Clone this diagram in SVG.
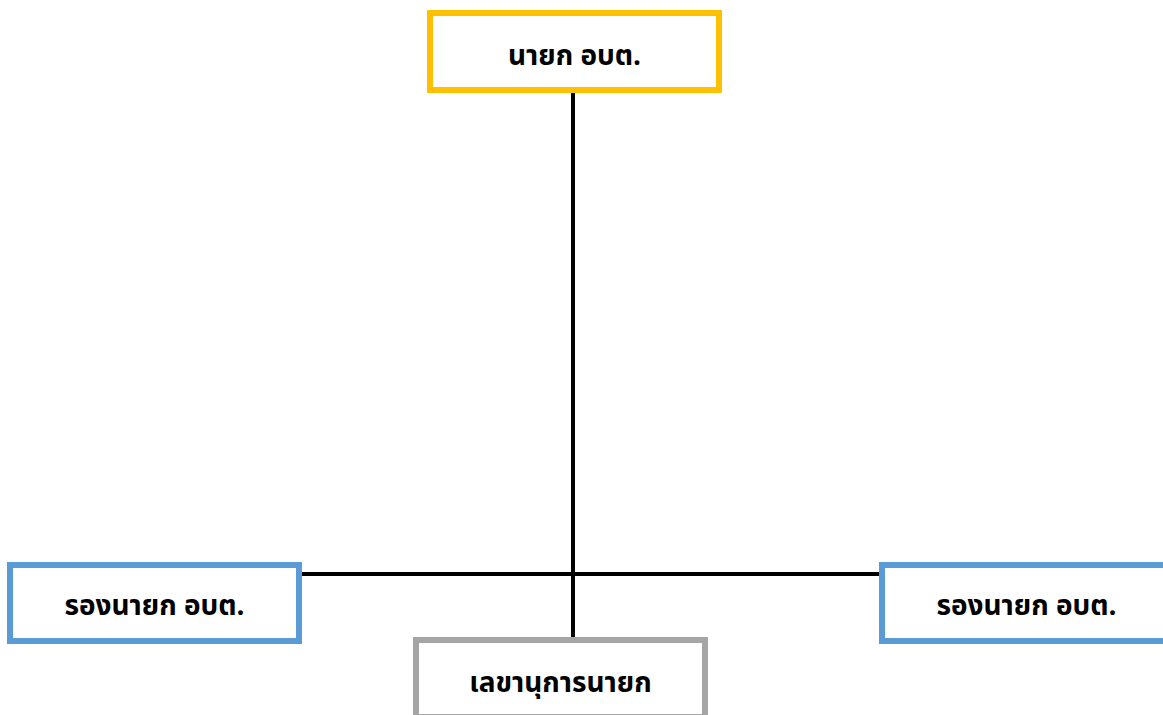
<svg xmlns="http://www.w3.org/2000/svg" width="1163" height="715" viewBox="0 0 1163 715">
<style>
.box{fill:#ffffff;stroke-width:6}
.t{font-family:"Tahoma","Noto Sans Thai","Noto Sans","DejaVu Sans",sans-serif;font-size:28px;font-weight:bold;fill:#000;text-anchor:middle}
.ln{stroke:#000;stroke-width:4;fill:none}
</style>
<rect width="1163" height="715" fill="#ffffff"/>
<g id="connectors">
<line class="ln" x1="573" y1="93" x2="573" y2="637"/>
<line class="ln" x1="302" y1="574" x2="879" y2="574"/>
</g>
<g id="node-top">
<rect class="box" x="430" y="13" width="289" height="77" stroke="#FFC000"/>
<text class="t" x="574.5" y="65">นายก อบต.</text>
</g>
<g id="node-left">
<rect class="box" x="10" y="565" width="289" height="76" stroke="#5B9BD5"/>
<text class="t" x="154.5" y="615">รองนายก อบต.</text>
</g>
<g id="node-right">
<rect class="box" x="882" y="565" width="289" height="76" stroke="#5B9BD5"/>
<text class="t" x="1026.5" y="615">รองนายก อบต.</text>
</g>
<g id="node-bottom">
<rect class="box" x="416" y="640" width="289" height="77" stroke="#A5A5A5"/>
<text class="t" x="560.5" y="692">เลขานุการนายก</text>
</g>
</svg>
